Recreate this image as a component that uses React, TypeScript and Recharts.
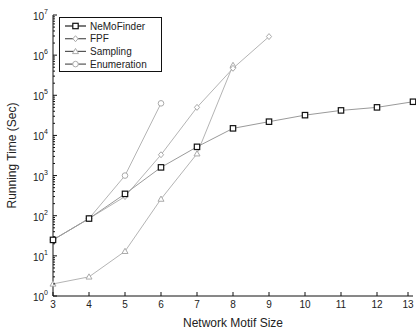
import React from "react";
import { LineChart, Line, XAxis, YAxis } from "recharts";

if (typeof document !== "undefined") document.body.style.margin = "0";

const motifSizes = [3, 4, 5, 6, 7, 8, 9, 10, 11, 12, 13];
const nemoFinder = [25, 85, 350, 1600, 5200, 15000, 22000, 32000, 42000, 50000, 69000];
const fpf = [25, 85, 300, 3300, 50000, 470000, 2900000, null, null, null, null];
const sampling = [2, 3, 13, 260, 3500, 560000, null, null, null, null, null];
const enumeration = [25, 85, 1000, 63000, null, null, null, null, null, null, null];

const yMajor = [1, 10, 100, 1000, 10000, 100000, 1000000, 10000000];
const yTicks: number[] = [];
yMajor.forEach((m, i) => {
  yTicks.push(m);
  if (i < yMajor.length - 1) for (let k = 2; k <= 9; k++) yTicks.push(m * k);
});

const data = motifSizes.map((s, i) => ({
  size: s,
  nemo: nemoFinder[i],
  fpf: fpf[i],
  sampling: sampling[i],
  enumeration: enumeration[i],
}));

const FONT = "'Liberation Sans', Arial, sans-serif";
const LINE = "#b4b4b4";

function Marker({ kind, cx, cy }: { kind: string; cx: number; cy: number }) {
  if (cx == null || cy == null) return null;
  if (kind === "square")
    return <rect x={cx - 2.7} y={cy - 2.7} width={5.4} height={5.4} fill="#fff" stroke="#111" strokeWidth={1.2} />;
  if (kind === "diamond")
    return <polygon points={`${cx},${cy - 3} ${cx + 2.6},${cy} ${cx},${cy + 3} ${cx - 2.6},${cy}`} fill="#fff" stroke="#aaa" strokeWidth={1} />;
  if (kind === "triangle")
    return <polygon points={`${cx},${cy - 3} ${cx + 3},${cy + 2.2} ${cx - 3},${cy + 2.2}`} fill="#fff" stroke="#aaa" strokeWidth={1} />;
  return <circle cx={cx} cy={cy} r={2.8} fill="#fff" stroke="#aaa" strokeWidth={1} />;
}

const dotFor = (kind: string) => (p: any) => <Marker key={p.index} kind={kind} cx={p.cx} cy={p.cy} />;

const isMajor = (v: number) => Math.abs(Math.log10(v) - Math.round(Math.log10(v))) < 1e-9;

function LeftTick(p: any) {
  const v = p.payload.value;
  const major = isMajor(v);
  const exp = Math.round(Math.log10(v));
  return (
    <g>
      <line x1={p.x} y1={p.y} x2={p.x + (major ? 4 : 2)} y2={p.y} stroke="#111" />
      {major && (
        <text x={p.x - 5} y={p.y + 5} textAnchor="end" fontSize={10} fontFamily={FONT} fill="#222">
          10<tspan dy={-6} fontSize={7}>{exp}</tspan>
        </text>
      )}
    </g>
  );
}

function RightTick(p: any) {
  const v = p.payload.value;
  const major = isMajor(v);
  return <line x1={p.x} y1={p.y} x2={p.x - (major ? 4 : 2)} y2={p.y} stroke="#111" />;
}

function BottomTick(p: any) {
  return (
    <g>
      <line x1={p.x} y1={p.y} x2={p.x} y2={p.y - 4} stroke="#111" />
      <text x={p.x} y={p.y + 12} textAnchor="middle" fontSize={10} fontFamily={FONT} fill="#222">
        {p.payload.value}
      </text>
    </g>
  );
}

function TopTick(p: any) {
  return <line x1={p.x} y1={p.y} x2={p.x} y2={p.y + 4} stroke="#111" />;
}

const legendItems = [
  { name: "NeMoFinder", kind: "square" },
  { name: "FPF", kind: "diamond" },
  { name: "Sampling", kind: "triangle" },
  { name: "Enumeration", kind: "circle" },
];

function LegendBox() {
  return (
    <svg width={104} height={56} style={{ display: "block" }}>
      <rect x={0.5} y={0.5} width={102} height={54} fill="#fff" stroke="#111" />
      {legendItems.map((it, i) => {
        const y = 9 + i * 12.7;
        return (
          <g key={it.name}>
            <line x1={6} y1={y} x2={27} y2={y} stroke={i === 0 ? "#222" : "#555"} strokeWidth={1.2} />
            <Marker kind={it.kind} cx={16.5} cy={y} />
            <text x={31} y={y + 3.5} fontSize={10} fontFamily={FONT} fill="#222">
              {it.name}
            </text>
          </g>
        );
      })}
    </svg>
  );
}

export default function App() {
  return (
    <div style={{ position: "relative", width: 416, height: 331, background: "#fff" }}>
      <LineChart width={416} height={331} data={data} margin={{ top: 15, right: 3, bottom: 0, left: 0 }}>
        <XAxis
          xAxisId="b"
          dataKey="size"
          type="number"
          domain={[3, 13]}
          ticks={motifSizes}
          height={35}
          tickSize={0}
          tickMargin={0}
          tickLine={false}
          tick={<BottomTick />}
          axisLine={{ stroke: "#111" }}
          label={{ value: "Network Motif Size", position: "insideBottom", offset: 4, fontSize: 12, fontFamily: FONT, fill: "#222" }}
        />
        <XAxis
          xAxisId="t"
          orientation="top"
          dataKey="size"
          type="number"
          domain={[3, 13]}
          ticks={motifSizes}
          height={0}
          tickSize={0}
          tickMargin={0}
          tickLine={false}
          tick={<TopTick />}
          axisLine={{ stroke: "#111" }}
        />
        <YAxis
          yAxisId="l"
          scale="log"
          domain={[1, 10000000]}
          ticks={yTicks}
          interval={0}
          allowDataOverflow
          width={53}
          tickSize={0}
          tickMargin={0}
          tickLine={false}
          tick={<LeftTick />}
          axisLine={{ stroke: "#111" }}
          label={{ value: "Running Time (Sec)", angle: -90, position: "insideLeft", offset: 12, fontSize: 12, fontFamily: FONT, fill: "#222", style: { textAnchor: "middle" } }}
        />
        <YAxis
          yAxisId="r"
          orientation="right"
          scale="log"
          domain={[1, 10000000]}
          ticks={yTicks}
          interval={0}
          allowDataOverflow
          width={0}
          tickSize={0}
          tickMargin={0}
          tickLine={false}
          tick={<RightTick />}
          axisLine={{ stroke: "#111" }}
        />
        <Line xAxisId="b" yAxisId="l" dataKey="enumeration" stroke={LINE} strokeWidth={1} dot={dotFor("circle")} isAnimationActive={false} />
        <Line xAxisId="b" yAxisId="l" dataKey="sampling" stroke={LINE} strokeWidth={1} dot={dotFor("triangle")} isAnimationActive={false} />
        <Line xAxisId="b" yAxisId="l" dataKey="fpf" stroke={LINE} strokeWidth={1} dot={dotFor("diamond")} isAnimationActive={false} />
        <Line xAxisId="b" yAxisId="l" dataKey="nemo" stroke="#9a9a9a" strokeWidth={1} dot={dotFor("square")} isAnimationActive={false} />
      </LineChart>
      <div style={{ position: "absolute", left: 59, top: 17 }}>
        <LegendBox />
      </div>
    </div>
  );
}
